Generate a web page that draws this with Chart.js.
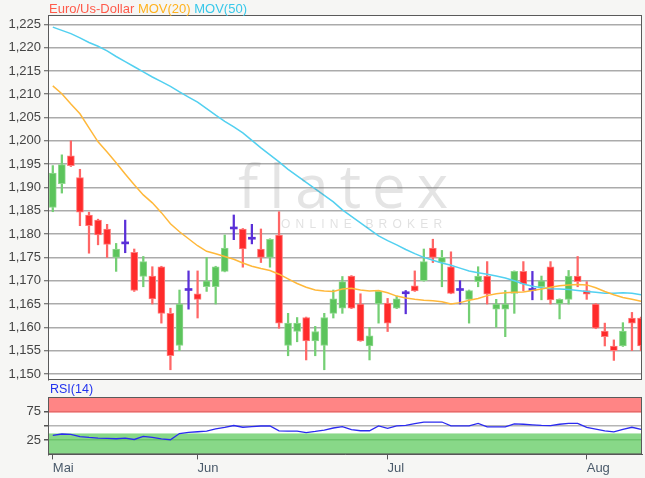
<!DOCTYPE html>
<html><head><meta charset="utf-8">
<script src="https://cdn.jsdelivr.net/npm/chart.js@4"></script>
<style>
html,body{margin:0;padding:0;background:#f6f6f4;width:645px;height:478px;overflow:hidden;font-family:"Liberation Sans",Arial,sans-serif;}
#main{position:absolute;left:0;top:0;}
#rsi{position:absolute;left:0;top:385px;}
.legend{position:absolute;left:49px;top:1px;font-size:13px;white-space:nowrap;line-height:15px;}
.rsilab{position:absolute;left:50px;top:382px;font-size:12.5px;color:#2233ee;line-height:14px;}
.wm1{position:absolute;left:238px;top:150px;font-family:"Open Sans",Lato,sans-serif;font-weight:400;font-size:60px;letter-spacing:11px;color:rgba(120,120,120,0.2);pointer-events:none;line-height:70px;}
.wm2{position:absolute;left:281px;top:217px;font-family:"Liberation Sans",Arial,sans-serif;font-size:12px;letter-spacing:5.2px;color:rgba(120,120,120,0.22);pointer-events:none;}
</style></head><body>
<canvas id="main" width="645" height="391"></canvas>
<canvas id="rsi" width="645" height="93"></canvas>
<div class="legend"><span style="color:#ff5a4a">Euro/Us-Dollar</span> <span style="color:#ffb21e">MOV(20)</span> <span style="color:#38c8ea">MOV(50)</span></div>
<div class="rsilab">RSI(14)</div>
<div class="wm1">flatex</div>
<div class="wm2">ONLINE BROKER</div>
<script>
// ---- data ----
const monthTickIndex = [0, 16, 37, 59];
const monthLabels = ['Mai', 'Jun', 'Jul', 'Aug'];
const priceTicks = [1.150,1.155,1.160,1.165,1.170,1.175,1.180,1.185,1.190,1.195,1.200,1.205,1.210,1.215,1.220,1.225];
const rsiTicks = [25, 50, 75];

const openP  = [1.1857,1.1908,1.1968,1.1921,1.1841,1.1830,1.1811,1.1750,1.1779,1.1761,1.1709,1.1710,1.1730,1.1630,1.1561,1.1679,1.1672,1.1687,1.1687,1.1720,1.1811,1.1811,1.1789,1.1768,1.1750,1.1798,1.1561,1.1591,1.1621,1.1571,1.1561,1.1630,1.1641,1.1710,1.1650,1.1560,1.1650,1.1652,1.1641,1.1672,1.1689,1.1700,1.1770,1.1739,1.1730,1.1679,1.1660,1.1698,1.1710,1.1639,1.1639,1.1673,1.1720,1.1679,1.1687,1.1730,1.1650,1.1660,1.1710,1.1679,1.1650,1.1592,1.1560,1.1560,1.1620,1.1620];
const highP  = [1.1947,1.1970,1.2000,1.1939,1.1847,1.1832,1.1821,1.1780,1.1830,1.1768,1.1752,1.1730,1.1731,1.1641,1.1680,1.1721,1.1721,1.1750,1.1731,1.1798,1.1841,1.1812,1.1821,1.1811,1.1790,1.1848,1.1630,1.1621,1.1622,1.1602,1.1630,1.1680,1.1709,1.1711,1.1672,1.1600,1.1678,1.1662,1.1667,1.1679,1.1721,1.1768,1.1789,1.1765,1.1762,1.1700,1.1680,1.1730,1.1741,1.1660,1.1679,1.1721,1.1741,1.1720,1.1710,1.1741,1.1661,1.1722,1.1752,1.1698,1.1651,1.1609,1.1573,1.1610,1.1632,1.1622];
const lowP   = [1.1848,1.1888,1.1945,1.1818,1.1759,1.1777,1.1750,1.1720,1.1760,1.1677,1.1687,1.1650,1.1609,1.1509,1.1550,1.1639,1.1620,1.1677,1.1650,1.1719,1.1788,1.1729,1.1779,1.1739,1.1729,1.1598,1.1539,1.1569,1.1530,1.1539,1.1509,1.1620,1.1630,1.1640,1.1570,1.1530,1.1609,1.1591,1.1640,1.1629,1.1677,1.1699,1.1739,1.1687,1.1672,1.1650,1.1609,1.1687,1.1650,1.1600,1.1580,1.1630,1.1678,1.1659,1.1659,1.1650,1.1618,1.1650,1.1687,1.1660,1.1597,1.1560,1.1529,1.1559,1.1550,1.1550];
const closeP = [1.1931,1.1949,1.1947,1.1847,1.1818,1.1798,1.1778,1.1768,1.1779,1.1679,1.1741,1.1661,1.1630,1.1539,1.1650,1.1679,1.1660,1.1700,1.1730,1.1770,1.1811,1.1768,1.1789,1.1750,1.1789,1.1609,1.1609,1.1609,1.1571,1.1591,1.1621,1.1661,1.1698,1.1641,1.1571,1.1582,1.1677,1.1609,1.1661,1.1672,1.1678,1.1741,1.1750,1.1750,1.1673,1.1679,1.1679,1.1710,1.1671,1.1650,1.1650,1.1720,1.1693,1.1679,1.1700,1.1659,1.1660,1.1710,1.1698,1.1671,1.1598,1.1580,1.1550,1.1592,1.1609,1.1560];

const mov20 = [1.2118,1.2101,1.2079,1.2058,1.2028,1.1998,1.1976,1.1953,1.1929,1.1906,1.1884,1.1867,1.1846,1.1822,1.1805,1.1790,1.1775,1.1763,1.1758,1.1752,1.1746,1.1738,1.1731,1.1726,1.1722,1.1714,1.1704,1.1694,1.1686,1.1680,1.1678,1.1677,1.1682,1.1684,1.1680,1.1678,1.1679,1.1674,1.1667,1.1663,1.1660,1.1658,1.1657,1.1655,1.1650,1.1653,1.1658,1.1662,1.1668,1.1672,1.1674,1.1675,1.1676,1.1679,1.1682,1.1686,1.1689,1.1691,1.1692,1.1691,1.1685,1.1677,1.1670,1.1664,1.1660,1.1656];
const mov50 = [1.2244,1.2237,1.2230,1.2221,1.2211,1.2203,1.2193,1.2181,1.2170,1.2159,1.2148,1.2137,1.2127,1.2117,1.2105,1.2094,1.2083,1.2069,1.2055,1.2042,1.2030,1.2017,1.2001,1.1985,1.1970,1.1955,1.1939,1.1925,1.1911,1.1897,1.1883,1.1869,1.1852,1.1838,1.1824,1.1810,1.1796,1.1786,1.1777,1.1767,1.1758,1.1750,1.1744,1.1738,1.1733,1.1727,1.1721,1.1717,1.1714,1.1710,1.1706,1.1700,1.1693,1.1688,1.1685,1.1683,1.1682,1.1681,1.1679,1.1677,1.1675,1.1673,1.1673,1.1674,1.1673,1.1670];
const rsi14 = [33.3,35.5,35,31,29.5,28.5,28,27.3,28.5,26,31.5,29.5,27,25.5,36.4,38.5,39.5,40.6,44.5,47,50.3,47.3,48.3,49.5,49.7,41,40.6,40.6,38,40,42.4,46,48.5,43,41.2,41.2,49.7,45.5,49.7,50.5,53.5,56.4,56.4,56.4,49.7,49.7,49.7,54,48,47.9,47.9,53.3,52.5,51.5,50.5,50.3,52.5,54,54,47,44.2,41,39.4,43.6,47.3,43.6];

// ---- helpers ----
const RED = '#ff2b2b', RED_W = '#ff6666', RED_B = '#ff7b7b';
const GREEN = '#5cc45c', GREEN_W = '#74cf74', GREEN_B = '#8fd88f';
const PURPLE = '#5a2fd8';
const kind = openP.map((o, i) => closeP[i] === o ? 'd' : (closeP[i] > o ? 'g' : 'r'));
const bodyCol = kind.map(k => k === 'd' ? PURPLE : (k === 'g' ? GREEN : RED));
const bodyBorder = kind.map(k => k === 'd' ? PURPLE : (k === 'g' ? GREEN_B : RED_B));
const bodyBW = kind.map(k => k === 'd' ? 0 : 1);
const wickCol = kind.map(k => k === 'd' ? PURPLE : (k === 'g' ? GREEN_W : RED_W));
const idx = openP.map((_, i) => i);

const X_MIN = -0.53, X_MAX = 65.11;
const FONT = {family: '"Liberation Sans", Arial, sans-serif', size: 13};

const framePlugin = {
  id: 'frame',
  beforeDraw(chart) {
    const {ctx, chartArea: a} = chart;
    ctx.save();
    ctx.fillStyle = '#ffffff';
    ctx.fillRect(a.left, a.top, a.right - a.left, a.bottom - a.top);
    const bands = chart.options.plugins.frame && chart.options.plugins.frame.bands;
    if (bands) {
      const ys = chart.scales.y;
      bands.forEach(b => {
        const t = ys.getPixelForValue(b.to), bt = ys.getPixelForValue(b.from);
        ctx.fillStyle = b.color;
        ctx.fillRect(a.left, t, a.right - a.left, bt - t);
      });
    }
    ctx.restore();
  },
  afterDraw(chart) {
    const {ctx, chartArea: a} = chart;
    ctx.save();
    ctx.strokeStyle = '#5a5a5a';
    ctx.lineWidth = 1;
    ctx.strokeRect(a.left + 0.5, a.top + 0.5, a.right - a.left - 1, a.bottom - a.top - 1);
    ctx.restore();
  }
};

// ---- main price chart ----
new Chart(document.getElementById('main'), {
  type: 'bar',
  data: {
    datasets: [
      {type: 'line', label: 'MOV(20)', data: idx.map(i => ({x: i, y: mov20[i]})), borderColor: '#ffb83a', borderWidth: 1.5, pointRadius: 0, tension: 0, order: 0},
      {type: 'line', label: 'MOV(50)', data: idx.map(i => ({x: i, y: mov50[i]})), borderColor: '#52d0f0', borderWidth: 1.5, pointRadius: 0, tension: 0, order: 0},
      {label: 'body', data: idx.map(i => ({x: i, y: [openP[i], closeP[i]]})), backgroundColor: bodyCol, borderColor: bodyBorder, borderWidth: bodyBW, borderSkipped: false, barThickness: 7, minBarLength: 2, grouped: false, order: 1},
      {label: 'wick', data: idx.map(i => ({x: i, y: [lowP[i], highP[i]]})), backgroundColor: wickCol, barThickness: 1.6, grouped: false, order: 2}
    ]
  },
  options: {
    responsive: false, animation: false, devicePixelRatio: 1,
    layout: {padding: {left: 0, right: 3, top: 15, bottom: 11}},
    plugins: {legend: {display: false}, tooltip: {enabled: false}},
    scales: {
      x: {type: 'linear', min: X_MIN, max: X_MAX, display: false, offset: false},
      y: {
        type: 'linear', min: 1.1487, max: 1.2270,
        afterBuildTicks: s => { s.ticks = priceTicks.map(v => ({value: v})); },
        afterFit: s => { s.width = 48; },
        ticks: {font: FONT, color: '#444', padding: 3, callback: v => v.toFixed(3).replace('.', ',')},
        grid: {color: '#ababab', lineWidth: 1.5, tickLength: 4, tickColor: '#555', tickWidth: 1},
        border: {display: true, color: '#555', width: 1}
      }
    }
  },
  plugins: [framePlugin]
});

// ---- RSI chart ----
new Chart(document.getElementById('rsi'), {
  type: 'line',
  data: {
    datasets: [
      {label: 'RSI(14)', data: idx.map(i => ({x: i, y: rsi14[i]})), borderColor: '#2b2bf0', borderWidth: 1.3, pointRadius: 0, tension: 0}
    ]
  },
  options: {
    responsive: false, animation: false, devicePixelRatio: 1,
    layout: {padding: {left: 0, right: 3, top: 12, bottom: 1}},
    plugins: {legend: {display: false}, tooltip: {enabled: false},
      frame: {bands: [{from: 73.5, to: 100, color: '#ff8585'}, {from: 0, to: 36.5, color: '#88d888'}]}},
    scales: {
      x: {
        type: 'linear', min: X_MIN, max: X_MAX,
        afterBuildTicks: s => { s.ticks = monthTickIndex.map(v => ({value: v})); },
        ticks: {font: FONT, color: '#4a5a6a', padding: 1, align: 'start', autoSkip: false, maxRotation: 0,
          callback: v => monthLabels[monthTickIndex.indexOf(v)]},
        grid: {drawOnChartArea: false, tickLength: 5, tickColor: '#555', tickWidth: 1},
        border: {display: true, color: '#555'}
      },
      y: {
        type: 'linear', min: 0, max: 100,
        afterBuildTicks: s => { s.ticks = rsiTicks.map(v => ({value: v})); },
        afterFit: s => { s.width = 48; },
        ticks: {font: FONT, color: '#444', padding: 3, callback: v => (v === 50 ? '' : String(v))},
        grid: {color: c => (c.tick && c.tick.value === 50 ? '#b5b5b5' : (c.tick && c.tick.value === 75 ? '#e86a6a' : '#6cc46c')), lineWidth: 1.5, tickLength: 4, tickColor: '#555'},
        border: {display: true, color: '#555'}
      }
    }
  },
  plugins: [framePlugin]
});
</script>
</body></html>
